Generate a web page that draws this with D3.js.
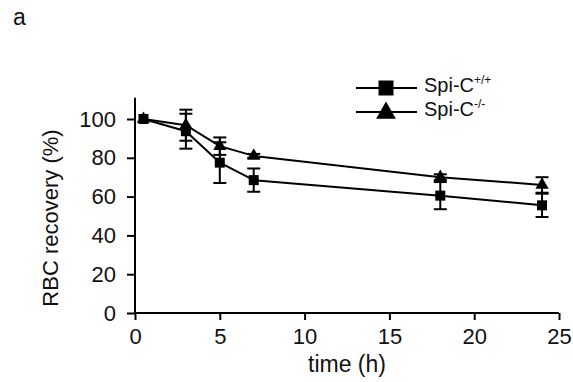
<!DOCTYPE html>
<html>
<head>
<meta charset="utf-8">
<script src="https://cdn.jsdelivr.net/npm/d3@7"></script>
<style>
  html, body { margin: 0; padding: 0; background: #fff; }
  svg text { font-family: "Liberation Sans", Arial, Helvetica, sans-serif; fill: #111; }
</style>
</head>
<body>
<div id="chart"></div>
<script>
// Data
const timeH = [0.5, 3, 5, 7, 18, 24];
const wtMean = [100, 93.7, 77.5, 68.5, 60.5, 55.5];   // Spi-C+/+ (squares)
const wtErr = [0, 9, 10.5, 6, 7, 6];
const koMean = [100, 96.8, 86, 81, 70, 66];           // Spi-C-/- (triangles)
const koErr = [0, 8, 4.5, 1, 1.5, 4];
const xTicks = [0, 5, 10, 15, 20, 25];
const yTicks = [0, 20, 40, 60, 80, 100];

const width = 573, height = 382;
const margin = { top: 119, right: 14, bottom: 69, left: 135 };

const svg = d3.select('#chart').append('svg')
  .attr('width', width)
  .attr('height', height);

const x = d3.scaleLinear().domain([0, 25]).range([margin.left, width - margin.right]);
const y = d3.scaleLinear().domain([0, 100]).range([height - margin.bottom, margin.top]);

// Axes
const xAxis = d3.axisBottom(x).tickValues(xTicks).tickSize(7).tickSizeOuter(0).tickPadding(8);
const yAxis = d3.axisLeft(y).tickValues(yTicks).tickSize(8).tickSizeOuter(0).tickPadding(11);

const gx = svg.append('g').attr('transform', `translate(0,${y(0)})`).call(xAxis);
const gy = svg.append('g').attr('transform', `translate(${x(0)},0)`).call(yAxis);

[gx, gy].forEach(g => {
  g.select('.domain').remove();
  g.selectAll('line').attr('stroke', '#000').attr('stroke-width', 2);
  g.selectAll('text').style('font-size', '22px').attr('fill', '#111');
});

// axis lines (y axis runs a little above 100)
svg.append('line')
  .attr('x1', x(0)).attr('x2', x(25)).attr('y1', y(0)).attr('y2', y(0))
  .attr('stroke', '#000').attr('stroke-width', 2);
svg.append('line')
  .attr('x1', x(0)).attr('x2', x(0)).attr('y1', y(0)).attr('y2', y(111))
  .attr('stroke', '#000').attr('stroke-width', 2);

// Axis labels
svg.append('text')
  .attr('x', (x(0) + x(25)) / 2)
  .attr('y', 372)
  .attr('text-anchor', 'middle')
  .style('font-size', '23px')
  .text('time (h)');

svg.append('text')
  .attr('transform', `translate(58,${(y(0) + y(100)) / 2 + 2}) rotate(-90)`)
  .attr('text-anchor', 'middle')
  .style('font-size', '22px')
  .text('RBC recovery (%)');

svg.append('text')
  .attr('x', 13).attr('y', 25)
  .style('font-size', '23px')
  .text('a');

const series = [
  { name: 'wt', mean: wtMean, err: wtErr, symbol: d3.symbolSquare, size: 100 },
  { name: 'ko', mean: koMean, err: koErr, symbol: d3.symbolTriangle, size: 75 }
];

const line = d3.line().x(d => x(d[0])).y(d => y(d[1]));

series.forEach(s => {
  const pts = timeH.map((t, i) => [t, s.mean[i], s.err[i]]);

  svg.append('path')
    .datum(pts)
    .attr('fill', 'none')
    .attr('stroke', '#000')
    .attr('stroke-width', 2)
    .attr('d', line);

  // error bars
  const eb = svg.append('g').selectAll('g')
    .data(pts.filter(d => d[2] > 0))
    .join('g');
  eb.append('line')
    .attr('x1', d => x(d[0])).attr('x2', d => x(d[0]))
    .attr('y1', d => y(d[1] - d[2])).attr('y2', d => y(d[1] + d[2]))
    .attr('stroke', '#000').attr('stroke-width', 2);
  [-1, 1].forEach(sign => {
    eb.append('line')
      .attr('x1', d => x(d[0]) - 6.5).attr('x2', d => x(d[0]) + 6.5)
      .attr('y1', d => y(d[1] + sign * d[2])).attr('y2', d => y(d[1] + sign * d[2]))
      .attr('stroke', '#000').attr('stroke-width', 2);
  });

  svg.append('g').selectAll('path')
    .data(pts)
    .join('path')
    .attr('transform', d => `translate(${x(d[0])},${y(d[1])})`)
    .attr('d', d3.symbol().type(s.symbol).size(s.size))
    .attr('fill', '#000');
});

// Legend
const legend = svg.append('g').attr('transform', 'translate(356,88)');
const legendItems = [
  { label: 'Spi-C', sup: '+/+', symbol: d3.symbolSquare, size: 225 },
  { label: 'Spi-C', sup: '-/-', symbol: d3.symbolTriangle, size: 170 }
];
legendItems.forEach((it, i) => {
  const g = legend.append('g').attr('transform', `translate(0,${i * 24})`);
  g.append('line').attr('x1', 0).attr('x2', 61).attr('y1', 0).attr('y2', 0)
    .attr('stroke', '#000').attr('stroke-width', 2);
  g.append('path')
    .attr('transform', `translate(30,${i === 1 ? 1 : 0})`)
    .attr('d', d3.symbol().type(it.symbol).size(it.size))
    .attr('fill', '#000');
  const t = g.append('text').attr('x', 68).attr('y', 4).style('font-size', '20px');
  t.append('tspan').text(it.label);
  t.append('tspan').attr('dy', -8).style('font-size', '12px').text(it.sup);
});
</script>
</body>
</html>
